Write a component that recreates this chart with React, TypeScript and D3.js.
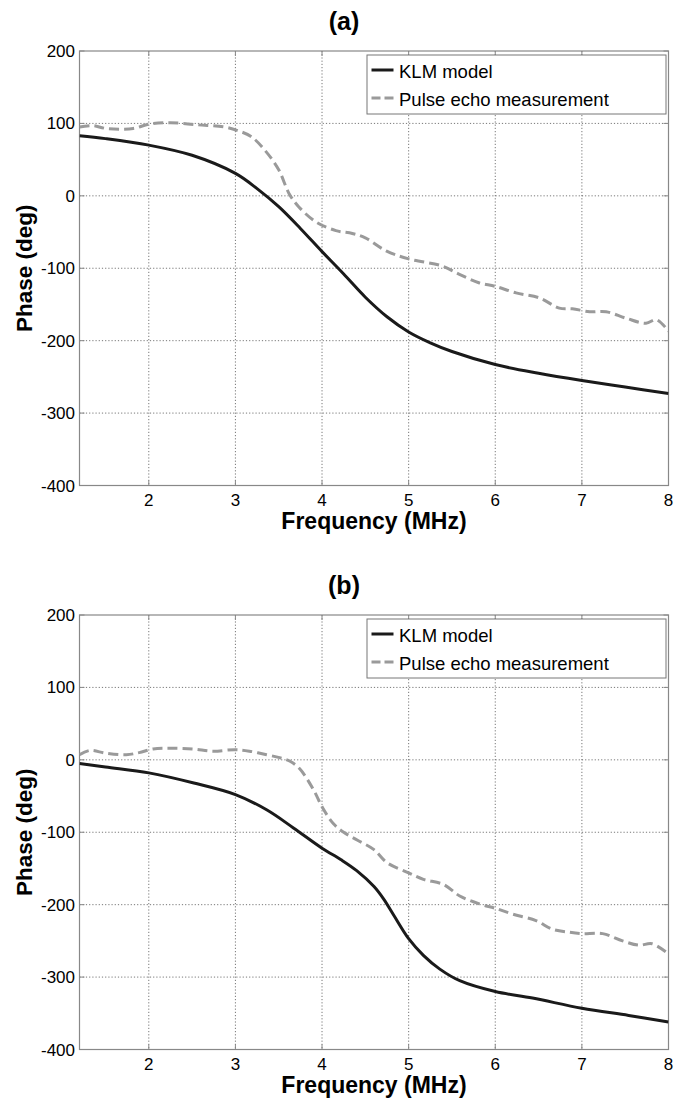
import React from "react";
import * as d3 from "d3";

const xTicks = [2, 3, 4, 5, 6, 7, 8];
const yTicks = [200, 100, 0, -100, -200, -300, -400];
const panelTitles = ["(a)", "(b)"];
const legendLabels = ["KLM model", "Pulse echo measurement"];

const klmAFreq = [1.2, 1.5, 2.0, 2.5, 3.0, 3.25, 3.5, 3.75, 4.0, 4.25, 4.5, 4.75, 5.0, 5.25, 5.5, 6.0, 6.5, 7.0, 7.5, 8.0];
const klmAPhase = [83, 79, 70, 56, 31, 10, -15, -45, -77, -108, -140, -167, -188, -203, -215, -233, -245, -255, -264, -273];

const peAFreq = [1.2, 1.35, 1.51, 1.82, 2.0, 2.25, 2.57, 2.88, 3.03, 3.18, 3.34, 3.5, 3.62, 3.73, 3.93, 4.16, 4.35, 4.5, 4.74, 5.0, 5.39, 5.58, 5.81, 6.0, 6.24, 6.51, 6.74, 6.89, 7.09, 7.28, 7.51, 7.74, 7.86, 8.0];
const peAPhase = [95, 97, 93, 93, 99, 101, 98, 95, 90, 82, 63, 36, 3, -15, -36, -48, -52, -58, -76, -87, -97, -108, -120, -125, -134, -141, -155, -156, -160, -160, -169, -176, -171, -187];

const klmBFreq = [1.2, 1.5, 2.0, 2.52, 3.0, 3.36, 3.67, 4.0, 4.22, 4.4, 4.6, 4.71, 4.83, 5.0, 5.17, 5.36, 5.59, 6.0, 6.43, 7.0, 7.54, 8.0];
const klmBPhase = [-5, -10, -18, -32, -48, -69, -94, -122, -138, -153, -175, -192, -215, -247, -270, -289, -305, -320, -329, -343, -353, -362];

const peBFreq = [1.2, 1.32, 1.51, 1.74, 1.89, 2.05, 2.24, 2.51, 2.74, 3.0, 3.16, 3.36, 3.51, 3.63, 3.74, 3.9, 4.01, 4.13, 4.25, 4.41, 4.6, 4.75, 5.0, 5.17, 5.4, 5.59, 5.82, 6.0, 6.2, 6.47, 6.66, 6.85, 7.0, 7.24, 7.47, 7.66, 7.81, 8.0];
const peBPhase = [7, 13, 9, 7, 10, 15, 16, 15, 12, 14, 12, 7, 3, -2, -12, -41, -67, -88, -100, -111, -124, -142, -156, -165, -172, -188, -199, -205, -213, -222, -234, -238, -240, -240, -250, -256, -254, -268];

const panels = [
  { title: panelTitles[0], klm: [klmAFreq, klmAPhase], pe: [peAFreq, peAPhase], top: 51 },
  { title: panelTitles[1], klm: [klmBFreq, klmBPhase], pe: [peBFreq, peBPhase], top: 615 },
];

const W = 674;
const H = 1099;
const left = 79.5;
const right = 668.5;
const plotH = 434.5;
const FONT = "'Liberation Sans', Arial, Helvetica, sans-serif";

function Panel({ p, idx }: { p: any; idx: number }) {
  const x = d3.scaleLinear().domain([1.2, 8]).range([left, right]);
  const y = d3.scaleLinear().domain([-400, 200]).range([p.top + plotH, p.top]);
  const line = d3
    .line<[number, number]>()
    .x((d) => x(d[0]))
    .y((d) => y(d[1]))
    .curve(d3.curveCatmullRom.alpha(0.5));
  const zip = (a: number[], b: number[]) => a.map((v, i) => [v, b[i]] as [number, number]);
  const bottom = p.top + plotH;
  const clipId = `clip${idx}`;
  const legTop = p.top + 4;
  return (
    <g>
      <defs>
        <clipPath id={clipId}>
          <rect x={left} y={p.top} width={right - left} height={plotH} />
        </clipPath>
      </defs>
      <text x={344} y={p.top - 21} textAnchor="middle" fontFamily={FONT} fontWeight="bold" fontSize={25}>
        {p.title}
      </text>
      {xTicks.slice(0, -1).map((t) => (
        <line key={"gx" + t} x1={x(t)} x2={x(t)} y1={p.top} y2={bottom} stroke="#555" strokeWidth={0.8} strokeDasharray="1.2,2" />
      ))}
      {yTicks.slice(1, -1).map((t) => (
        <line key={"gy" + t} x1={left} x2={right} y1={y(t)} y2={y(t)} stroke="#555" strokeWidth={0.8} strokeDasharray="1.2,2" />
      ))}
      <rect x={left} y={p.top} width={right - left} height={plotH} fill="none" stroke="#888" strokeWidth={1.2} />
      {xTicks.map((t) => (
        <g key={"tx" + t}>
          <line x1={x(t)} x2={x(t)} y1={bottom} y2={bottom - 5} stroke="#888" />
          <line x1={x(t)} x2={x(t)} y1={p.top} y2={p.top + 5} stroke="#888" />
          <text x={x(t)} y={bottom + 20} textAnchor="middle" fontFamily={FONT} fontSize={17}>
            {t}
          </text>
        </g>
      ))}
      {yTicks.map((t) => (
        <g key={"ty" + t}>
          <line x1={left} x2={left + 5} y1={y(t)} y2={y(t)} stroke="#888" />
          <line x1={right} x2={right - 5} y1={y(t)} y2={y(t)} stroke="#888" />
          <text x={75} y={y(t) + 6} textAnchor="end" fontFamily={FONT} fontSize={17}>
            {t}
          </text>
        </g>
      ))}
      <g clipPath={`url(#${clipId})`}>
        <path d={line(zip(p.pe[0], p.pe[1])) || ""} fill="none" stroke="#9a9a9a" strokeWidth={3} strokeDasharray="10,5" />
        <path d={line(zip(p.klm[0], p.klm[1])) || ""} fill="none" stroke="#1a1a1a" strokeWidth={3} />
      </g>
      <rect x={367} y={legTop} width={299} height={59} fill="white" stroke="#777" strokeWidth={1} />
      <line x1={371.5} x2={393.5} y1={legTop + 15} y2={legTop + 15} stroke="#1a1a1a" strokeWidth={3} />
      <text x={399} y={legTop + 23} fontFamily={FONT} fontSize={18.5}>
        {legendLabels[0]}
      </text>
      <line x1={371.5} x2={393.5} y1={legTop + 43} y2={legTop + 43} stroke="#9a9a9a" strokeWidth={3} strokeDasharray="9,4" />
      <text x={399} y={legTop + 51} fontFamily={FONT} fontSize={18.5}>
        {legendLabels[1]}
      </text>
      <text x={(left + right) / 2} y={bottom + 43} textAnchor="middle" fontFamily={FONT} fontWeight="bold" fontSize={23}>
        Frequency (MHz)
      </text>
      <text
        transform={`translate(32, ${p.top + plotH / 2}) rotate(-90)`}
        textAnchor="middle"
        fontFamily={FONT}
        fontWeight="bold"
        fontSize={22.5}
      >
        Phase (deg)
      </text>
    </g>
  );
}

export default function App() {
  return (
    <svg width={W} height={H} style={{ position: "absolute", left: 0, top: 0, background: "white" }}>
      <rect x={0} y={0} width={W} height={H} fill="white" />
      {panels.map((p, i) => (
        <Panel key={i} p={p} idx={i} />
      ))}
    </svg>
  );
}
